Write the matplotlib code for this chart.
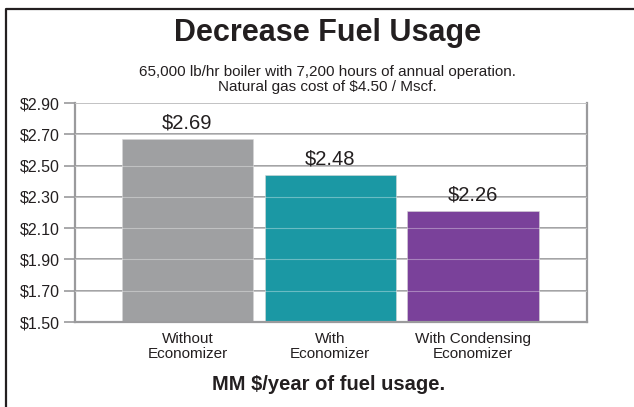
import matplotlib

matplotlib.use("Agg")
import matplotlib.pyplot as plt
from matplotlib.lines import Line2D

plt.rcParams["font.family"] = ["Liberation Sans", "DejaVu Sans"]

INK = "#231f20"
GRID = "#9a9a9c"

categories = ["Without\nEconomizer", "With\nEconomizer", "With Condensing\nEconomizer"]
bar_values = [2.67, 2.44, 2.21]
value_labels = ["$2.69", "$2.48", "$2.26"]
bar_colors = ["#9fa0a2", "#1b98a4", "#7a419a"]
y_ticks = [1.50, 1.70, 1.90, 2.10, 2.30, 2.50, 2.70, 2.90]

fig = plt.figure(figsize=(6.34, 4.07), dpi=100, facecolor="white")
ax = fig.add_axes([0.1183, 0.2088, 0.8076, 0.5381])

x = list(range(len(categories)))
ax.bar(x, [v - 1.5 for v in bar_values], bottom=1.5, width=0.92, color=bar_colors,
       edgecolor="#d6d6d6", linewidth=0.4, zorder=2)
for yv in y_ticks:
    ax.axhline(yv, color=GRID, lw=1.3, zorder=1)
    ax.axhline(yv, color="white", lw=0.8, alpha=0.35, zorder=3)

for xi, v, lab in zip(x, bar_values, value_labels):
    ax.annotate(lab, (xi, v), xytext=(0, 5), textcoords="offset points",
                ha="center", va="bottom", fontsize=14.5, color=INK)

ax.set_xlim(-0.788, 2.799)
ax.set_ylim(1.5, 2.9)
ax.set_yticks(y_ticks)
ax.set_yticklabels([f"${t:.2f}" for t in y_ticks], fontsize=11.5, color=INK)
ax.set_xticks(x)
ax.set_xticklabels(categories, fontsize=11, color=INK, linespacing=1.12)
ax.tick_params(axis="y", length=8, width=1.2, color=GRID, pad=3)
ax.tick_params(axis="x", length=0, pad=7)
for side in ("left", "right", "bottom"):
    ax.spines[side].set_color(GRID)
    ax.spines[side].set_linewidth(1.6)
ax.spines["top"].set_visible(False)

fig.text(0.516, 0.918, "Decrease Fuel Usage", ha="center", va="center",
         fontsize=22, fontweight="bold", color=INK)
fig.text(0.516, 0.805, "65,000 lb/hr boiler with 7,200 hours of annual operation.\n"
         "Natural gas cost of $4.50 / Mscf.", ha="center", va="center",
         fontsize=11, color=INK, linespacing=1.12)
fig.text(0.519, 0.056, "MM $/year of fuel usage.", ha="center", va="center",
         fontsize=14.5, fontweight="bold", color=INK)

# frame lines on left and top edges only
fig.add_artist(Line2D([0.0095, 0.0095, 1.0], [0.0, 0.978, 0.978],
                      transform=fig.transFigure, color=INK, lw=1.6))

fig.savefig("out.png", dpi=100)
